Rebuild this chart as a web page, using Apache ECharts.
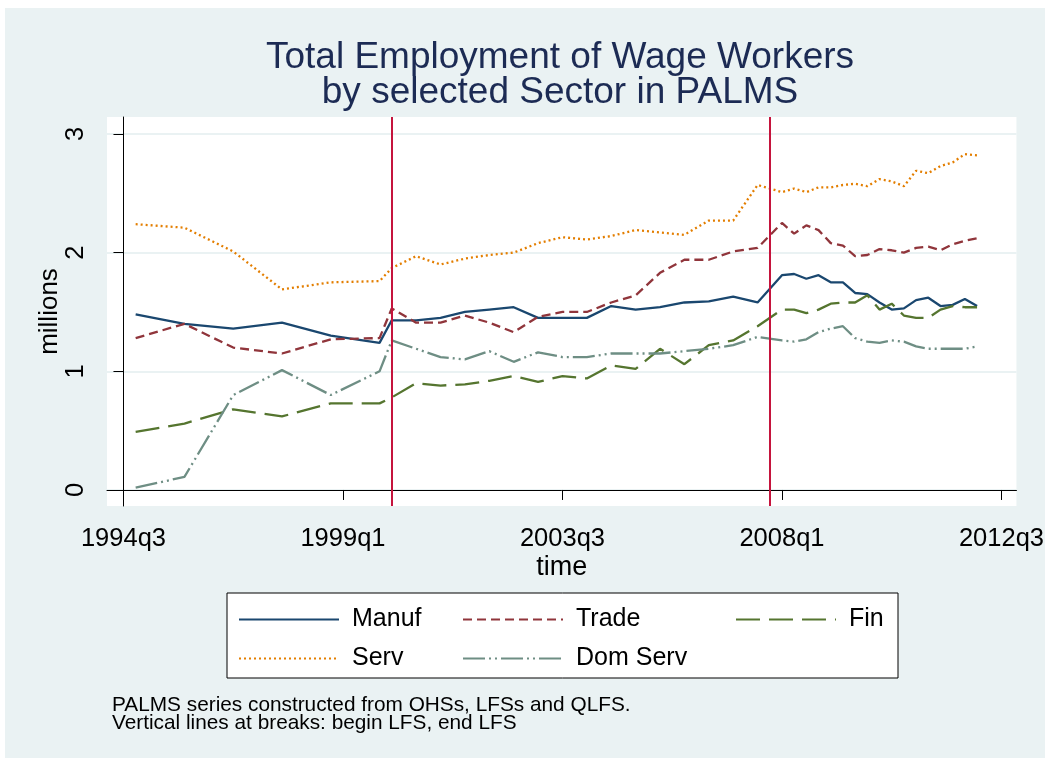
<!DOCTYPE html>
<html>
<head>
<meta charset="utf-8">
<script src="https://cdn.jsdelivr.net/npm/echarts@6/dist/echarts.min.js"></script>
<style>
  html, body { margin: 0; padding: 0; background: #fff; }
  #chart { width: 1047px; height: 758px; }
</style>
</head>
<body>
<div id="chart"></div>
<script>
// survey periods (OHS yearly, LFS twice a year, QLFS quarterly)
const periods = ['1994q4', '1995q4', '1996q4', '1997q4', '1998q4', '1999q4',
  '2000q1', '2000q3', '2001q1', '2001q3', '2002q1', '2002q3', '2003q1', '2003q3',
  '2004q1', '2004q3', '2005q1', '2005q3', '2006q1', '2006q3', '2007q1', '2007q3',
  '2008q1', '2008q2', '2008q3', '2008q4', '2009q1', '2009q2', '2009q3', '2009q4',
  '2010q1', '2010q2', '2010q3', '2010q4', '2011q1', '2011q2', '2011q3', '2011q4', '2012q1']

// millions
const manuf = [1.48, 1.40, 1.36, 1.41, 1.30, 1.24,
  1.43, 1.43, 1.45, 1.50, 1.52, 1.54, 1.45, 1.45, 1.45, 1.55, 1.52, 1.54, 1.58, 1.59, 1.63, 1.58,
  1.81, 1.82, 1.78, 1.81, 1.75, 1.75, 1.66, 1.65, 1.58, 1.52, 1.53, 1.60, 1.62, 1.55, 1.56, 1.61, 1.55]
const trade = [1.28, 1.40, 1.20, 1.15, 1.27, 1.28,
  1.53, 1.41, 1.41, 1.47, 1.41, 1.33, 1.46, 1.50, 1.50, 1.58, 1.64, 1.83, 1.94, 1.94, 2.01, 2.04,
  2.25, 2.16, 2.23, 2.19, 2.08, 2.06, 1.97, 1.98, 2.03, 2.02, 2.00, 2.04, 2.05, 2.02, 2.07, 2.10, 2.12]
const fin = [0.49, 0.56, 0.68, 0.62, 0.73, 0.73,
  0.78, 0.90, 0.88, 0.89, 0.92, 0.96, 0.91, 0.96, 0.94, 1.05, 1.02, 1.19, 1.06, 1.22, 1.26, 1.38,
  1.52, 1.52, 1.49, 1.52, 1.57, 1.58, 1.58, 1.64, 1.52, 1.57, 1.47, 1.45, 1.45, 1.52, 1.55, 1.54, 1.54]
const serv = [2.24, 2.21, 2.01, 1.69, 1.75, 1.76,
  1.87, 1.97, 1.90, 1.95, 1.98, 2.00, 2.08, 2.13, 2.11, 2.14, 2.19, 2.17, 2.15, 2.27, 2.27, 2.57,
  2.51, 2.54, 2.51, 2.55, 2.55, 2.57, 2.58, 2.56, 2.62, 2.60, 2.56, 2.69, 2.67, 2.73, 2.76, 2.83, 2.82]
const domServ = [0.02, 0.11, 0.80, 1.01, 0.80, 1.00,
  1.26, 1.19, 1.12, 1.10, 1.17, 1.08, 1.16, 1.12, 1.12, 1.15, 1.15, 1.15, 1.17, 1.19, 1.22, 1.29,
  1.26, 1.25, 1.27, 1.33, 1.36, 1.38, 1.28, 1.25, 1.24, 1.26, 1.25, 1.21, 1.19, 1.19, 1.19, 1.19, 1.21]

const xTicks = ['1994q3', '1999q1', '2003q3', '2008q1', '2012q3']
const yTicks = [0, 1, 2, 3]
const breaks = ['2000q1', '2007q4'] // begin LFS, end LFS

// quarters counted from 1994q3
const q = s => (parseInt(s.slice(0, 4)) - 1994) * 4 + parseInt(s.slice(5)) - 3
const qLabel = v => {
  const n = Math.round(v) + 2
  return (1994 + Math.floor(n / 4)) + 'q' + (n % 4 + 1)
}

const font = 'Liberation Sans, Arial, sans-serif'

function mk(name, vals, color, dash) {
  return {
    name,
    type: 'line',
    data: periods.map((p, i) => [q(p), vals[i]]),
    symbol: 'none',
    lineStyle: { color, width: 2.3, type: dash },
    itemStyle: { color },
    z: 3,
  }
}

const series = [
  {
    name: 'breaks',
    type: 'line',
    data: [],
    markLine: {
      silent: true,
      symbol: 'none',
      label: { show: false },
      lineStyle: { color: '#C5143D', width: 2, type: 'solid' },
      data: breaks.map(b => ({ xAxis: q(b) })),
    },
    z: 2,
  },
  mk('Manuf', manuf, '#1A476F', 'solid'),
  mk('Trade', trade, '#90353B', [9, 5]),
  mk('Fin', fin, '#55752F', [24, 9]),
  mk('Serv', serv, '#E37E00', [2, 3]),
  mk('Dom Serv', domServ, '#6E8E84', [22, 4, 2, 4, 2, 4]),
]

const legendBase = {
  orient: 'vertical',
  padding: 0,
  itemWidth: 100,
  itemHeight: 14,
  itemGap: 14,
  itemStyle: { opacity: 0 },
  textStyle: { fontFamily: font, fontSize: 25, color: '#000', lineHeight: 24, padding: [0, 0, 0, 8] },
  top: 607,
  z: 10,
}

const chart = echarts.init(document.getElementById('chart'))
chart.setOption({
  backgroundColor: '#fff',
  animation: false,
  graphic: [
    { type: 'rect', z: -10, shape: { x: 5, y: 8, width: 1040, height: 750 }, style: { fill: '#EAF2F3' } },
    { type: 'rect', z: -5, shape: { x: 227, y: 593, width: 671, height: 85 }, style: { fill: '#fff', stroke: '#000', lineWidth: 1 } },
  ],
  title: [
    {
      text: 'Total Employment of Wage Workers\nby selected Sector in PALMS',
      left: 560, top: 40, textAlign: 'center', padding: 0,
      textStyle: { fontFamily: font, fontSize: 37, fontWeight: 'normal', color: '#1C2B54', lineHeight: 35 },
    },
    {
      text: 'PALMS series constructed from OHSs, LFSs and QLFS.\nVertical lines at breaks: begin LFS, end LFS',
      left: 112, top: 696, padding: 0,
      textStyle: { fontFamily: font, fontSize: 20.8, fontWeight: 'normal', color: '#000', lineHeight: 18 },
    },
  ],
  legend: [
    Object.assign({}, legendBase, { left: 238, data: ['Manuf', 'Serv'] }),
    Object.assign({}, legendBase, { left: 462, data: ['Trade', 'Dom Serv'] }),
    Object.assign({}, legendBase, { left: 735, data: ['Fin'] }),
  ],
  grid: {
    left: 107, right: 29, top: 117, bottom: 252,
    show: true, backgroundColor: '#fff', borderWidth: 0,
  },
  xAxis: {
    type: 'value',
    min: -1.35, max: 73.23,
    name: 'time', nameLocation: 'middle', nameGap: 48, nameMoveOverlap: false,
    nameTextStyle: { fontFamily: font, fontSize: 27, color: '#000' },
    axisLine: { lineStyle: { color: '#000', width: 1 } },
    axisTick: { length: 10, lineStyle: { color: '#000' }, customValues: xTicks.map(q) },
    axisLabel: {
      customValues: xTicks.map(q), formatter: qLabel, margin: 20,
      fontFamily: font, fontSize: 25.5, color: '#000',
    },
    splitLine: { show: false },
  },
  yAxis: {
    type: 'value',
    min: -0.135, max: 3.143,
    name: 'millions', nameLocation: 'middle', nameGap: 44, nameRotate: 90, nameMoveOverlap: false,
    nameTextStyle: { fontFamily: font, fontSize: 26, color: '#000' },
    axisLine: { show: true, lineStyle: { color: '#000', width: 1 } },
    axisTick: { show: true, length: 10, lineStyle: { color: '#000' }, customValues: yTicks },
    axisLabel: {
      customValues: yTicks, rotate: 90, margin: 18,
      fontFamily: font, fontSize: 25.5, color: '#000',
    },
    splitLine: { show: true, lineStyle: { color: '#EAF2F3', width: 2 } },
  },
  series,
})
</script>
</body>
</html>
